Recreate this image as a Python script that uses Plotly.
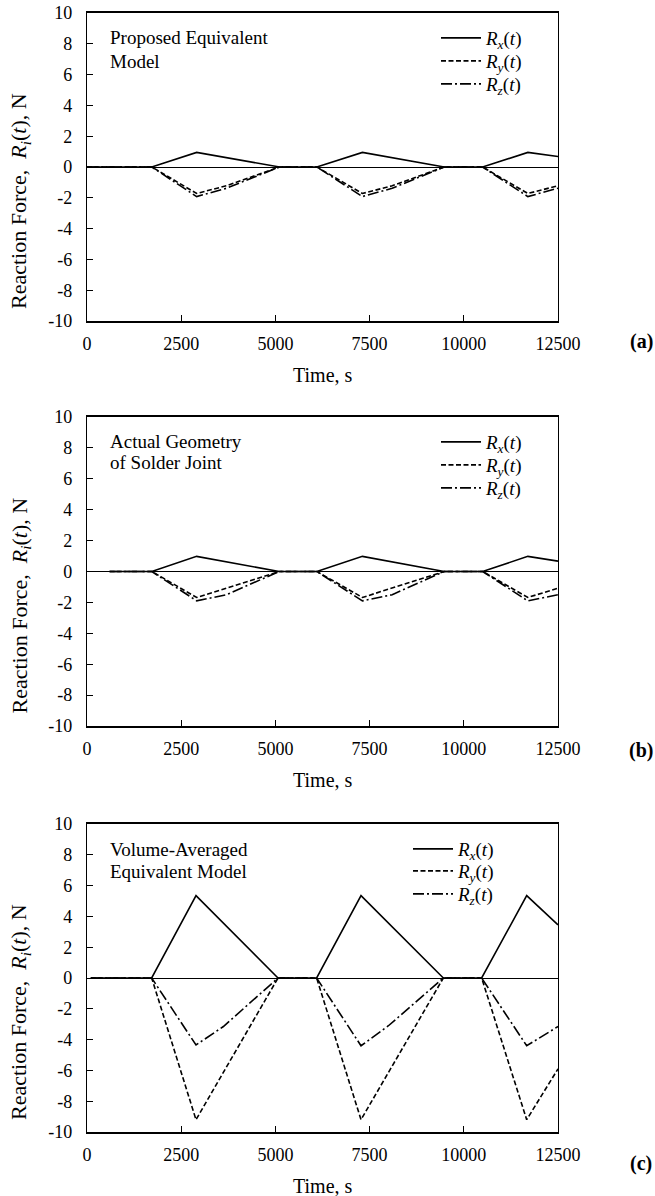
import plotly.graph_objects as go

W, H = 655, 1196

# ---------------- data ----------------
# Panel (a): Proposed Equivalent Model
t_a_x = [0, 1720, 2910, 5110, 6100, 7310, 9480, 10500, 11700, 12500]
rx_a = [0, 0, 0.95, 0, 0, 0.95, 0, 0, 0.95, 0.68]
t_a_yz = [0, 1720, 2910, 3700, 5110, 6100, 7310, 8100, 9480, 10500, 11700, 12500]
ry_a = [0, 0, -1.72, -1.22, 0, 0, -1.72, -1.22, 0, 0, -1.72, -1.22]
rz_a = [0, 0, -1.92, -1.38, 0, 0, -1.92, -1.38, 0, 0, -1.92, -1.38]

# Panel (b): Actual Geometry of Solder Joint
t_b_x = [600, 1720, 2910, 5100, 6100, 7310, 9480, 10500, 11700, 12500]
rx_b = [0, 0, 0.98, 0, 0, 0.98, 0, 0, 0.98, 0.67]
t_b_y = [600, 1720, 2910, 5100, 6100, 7310, 9480, 10500, 11700, 12500]
ry_b = [0, 0, -1.68, 0, 0, -1.68, 0, 0, -1.68, -1.08]
t_b_z = [600, 1720, 2910, 3700, 5100, 6100, 7310, 8100, 9480, 10500, 11700, 12500]
rz_b = [0, 0, -1.9, -1.5, 0, 0, -1.9, -1.5, 0, 0, -1.9, -1.5]

# Panel (c): Volume-Averaged Equivalent Model
t_c_x = [100, 1717, 2893, 5069, 6095, 7272, 9457, 10474, 11669, 12500]
rx_c = [0, 0, 5.35, 0, 0, 5.35, 0, 0, 5.35, 3.45]
t_c_y = [100, 1717, 2893, 5069, 6095, 7272, 9457, 10474, 11669, 12500]
ry_c = [0, 0, -9.2, 0, 0, -9.2, 0, 0, -9.2, -5.9]
t_c_z = [100, 1717, 2893, 3620, 5069, 6095, 7272, 8000, 9457, 10474, 11669, 12500]
rz_c = [0, 0, -4.35, -3.15, 0, 0, -4.4, -3.1, 0, 0, -4.4, -3.15]

series_names = ["<i>R<sub>x</sub></i>(<i>t</i>)",
                "<i>R<sub>y</sub></i>(<i>t</i>)",
                "<i>R<sub>z</sub></i>(<i>t</i>)"]
panel_titles = [["Proposed Equivalent", "Model"],
                ["Actual Geometry", "of Solder Joint"],
                ["Volume-Averaged", "Equivalent Model"]]
panel_tags = ["(a)", "(b)", "(c)"]

x_tickvals = [0, 2500, 5000, 7500, 10000, 12500]
x_ticktext = ["0", "2500", "5000", "7500", "10000", "12500"]
y_tickvals = [10, 8, 6, 4, 2, 0, -2, -4, -6, -8, -10]
y_ticktext = ["10", "8", "6", "4", "2", "0", "-2", "-4", "-6", "-8", "-10"]

x_title = "Time, s"
y_title = "Reaction Force,\u00a0\u00a0<i>R<sub>i</sub></i>(<i>t</i>), N"

# ---------------- layout geometry (pixels) ----------------
X0, X1 = 87, 558
panels_px = [(13, 321), (417, 726), (824, 1132)]
title_lines_px = [(37, 62), (442, 462), (849, 871)]
legend_x_px = [436, 436, 408]
legend_rows_px = [(38, 61, 84), (442, 465, 488), (849, 871, 894)]
tag_px = [342, 750, 1163]
FONT = "Liberation Serif"

def fx(p):
    return p / W

def fy(p):
    return 1 - p / H

fig = go.Figure()

data = [
    [(t_a_x, rx_a), (t_a_yz, ry_a), (t_a_yz, rz_a)],
    [(t_b_x, rx_b), (t_b_y, ry_b), (t_b_z, rz_b)],
    [(t_c_x, rx_c), (t_c_y, ry_c), (t_c_z, rz_c)],
]
dashes = ["solid", "5px,2.5px", "11px,3px,2px,3px"]

annotations = []
layout_upd = {}
for i, (top, bot) in enumerate(panels_px):
    sfx = "" if i == 0 else str(i + 1)
    for j, (tt, vv) in enumerate(data[i]):
        n = i * 3 + j + 1
        leg = "legend" if n == 1 else "legend" + str(n)
        fig.add_trace(go.Scatter(
            x=tt, y=vv, mode="lines", name=series_names[j],
            line=dict(color="black", width=1.6, dash=dashes[j]),
            xaxis="x" + sfx, yaxis="y" + sfx, legend=leg,
        ))
        layout_upd[leg] = dict(
            x=fx(legend_x_px[i]), y=fy(legend_rows_px[i][j]),
            xanchor="left", yanchor="middle",
            bgcolor="rgba(0,0,0,0)", borderwidth=0, itemwidth=40,
            font=dict(family=FONT, size=19, color="black"),
        )
    layout_upd["xaxis" + sfx] = dict(
        domain=[fx(X0), fx(X1)], range=[0, 12500], anchor="y" + sfx,
        tickvals=x_tickvals, ticktext=x_ticktext, ticks="inside", ticklen=6,
        tickcolor="black", tickwidth=1, showgrid=False, zeroline=False,
        showline=True, linecolor="black", linewidth=1.5, mirror=True,
        tickfont=dict(family=FONT, size=18, color="black"),
        ticklabelstandoff=6, automargin=False,
    )
    layout_upd["yaxis" + sfx] = dict(
        domain=[fy(bot), fy(top)], range=[-10, 10], anchor="x" + sfx,
        tickvals=y_tickvals, ticktext=y_ticktext, ticks="inside", ticklen=6,
        tickcolor="black", tickwidth=1, showgrid=False,
        zeroline=True, zerolinecolor="black", zerolinewidth=1,
        showline=True, linecolor="black", linewidth=1.2, mirror=True,
        tickfont=dict(family=FONT, size=18, color="black"),
        ticklabelstandoff=10, automargin=False,
    )
    for k, line in enumerate(panel_titles[i]):
        annotations.append(dict(
            text=line, x=fx(108), y=fy(title_lines_px[i][k]), xref="paper", yref="paper",
            xanchor="left", yanchor="middle", showarrow=False,
            font=dict(family=FONT, size=19, color="black"),
        ))
    annotations.append(dict(
        text=x_title, x=fx((X0 + X1) / 2), y=fy(bot + 54), xref="paper", yref="paper",
        xanchor="center", yanchor="middle", showarrow=False,
        font=dict(family=FONT, size=20, color="black"),
    ))
    annotations.append(dict(
        text=y_title, x=fx(20), y=fy((top + bot) / 2 + 34), xref="paper", yref="paper",
        xanchor="center", yanchor="middle", showarrow=False, textangle=-90,
        font=dict(family=FONT, size=22, color="black"),
    ))
    annotations.append(dict(
        text="<b>" + panel_tags[i] + "</b>", x=fx(641), y=fy(tag_px[i]), xref="paper",
        yref="paper", xanchor="center", yanchor="middle", showarrow=False,
        font=dict(family=FONT, size=20, color="black"),
    ))

fig.update_layout(**layout_upd)
fig.update_layout(
    width=W, height=H, margin=dict(l=0, r=0, t=0, b=0, autoexpand=False),
    paper_bgcolor="white", plot_bgcolor="white",
    annotations=annotations, showlegend=True,
)

fig.write_html("out.html")
